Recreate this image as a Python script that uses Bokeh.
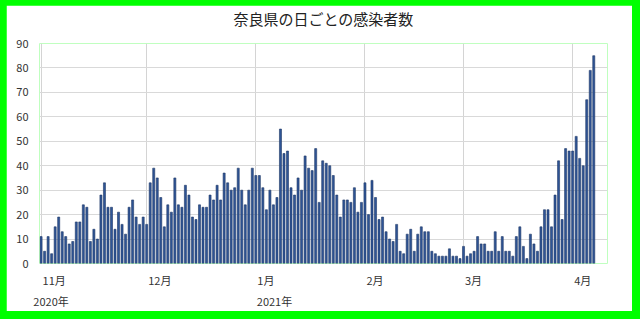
import numpy as np
from bokeh.plotting import figure
from bokeh.models import FixedTicker, LinearAxis, Range1d, ColumnDataSource
from bokeh.layouts import column
from bokeh.embed import file_html
from bokeh.resources import INLINE

title_text = "奈良県の日ごとの感染者数"
start_date = "2020-11-01"

nov_cases = [11, 5, 11, 4, 15, 19, 13, 11, 8, 9, 17, 17, 24, 23, 9, 14, 10, 28, 33, 23,
             23, 14, 21, 16, 12, 23, 26, 19, 16, 19]
dec_cases = [16, 33, 39, 35, 27, 15, 24, 21, 35, 24, 23, 32, 28, 19, 18, 24, 23, 23, 28, 26,
             32, 26, 37, 33, 30, 31, 39, 30, 24, 30, 39]
jan_cases = [36, 36, 31, 22, 30, 24, 27, 55, 45, 46, 31, 28, 35, 30, 44, 39, 38, 47, 25, 42,
             41, 40, 36, 28, 19, 26, 26, 25, 31, 21, 25]
feb_cases = [33, 20, 34, 27, 18, 19, 13, 10, 9, 16, 5, 4, 12, 14, 5, 12, 15, 13, 13, 5,
             4, 3, 3, 3, 6, 3, 3, 2]
mar_cases = [7, 3, 4, 5, 11, 8, 8, 5, 5, 13, 5, 11, 5, 5, 3, 11, 15, 7, 2, 12,
             8, 5, 15, 22, 22, 15, 28, 42, 18, 47, 46]
apr_cases = [46, 52, 43, 40, 67, 79, 85]

month_starts = ["2020-11-01", "2020-12-01", "2021-01-01", "2021-02-01", "2021-03-01", "2021-04-01"]
month_labels = ["11月", "12月", "1月", "2月", "3月", "4月"]
year_starts = ["2020-11-01", "2021-01-01"]
year_labels = ["2020年", "2021年"]
y_ticks = [0, 10, 20, 30, 40, 50, 60, 70, 80, 90]


def day_index(d):
    return int((np.datetime64(d) - np.datetime64(start_date)).astype(int))


cases = nov_cases + dec_cases + jan_cases + feb_cases + mar_cases + apr_cases
days = list(range(len(cases)))
month_ticks = [day_index(d) for d in month_starts]
year_ticks = [day_index(d) for d in year_starts]

# ---- layout / style constants ----
FONT = "Noto Sans CJK JP"
FIG_W, FIG_H = 626, 306
BORDER_L, BORDER_R, BORDER_T, BORDER_B = 33, 25, 38, 46
X_START, X_END = -0.45, 160.9
FRAME_W = FIG_W - BORDER_L - BORDER_R
PX_PER_DAY = FRAME_W / (X_END - X_START)


def text_w(s):
    # approximate rendered width (px) of an 11px label
    return sum(6.1 if ch.isdigit() else 11.0 for ch in s)


# labels sit just to the right of their month line (left-aligned look)
month_label_pos = [t + (1.5 + text_w(l) / 2) / PX_PER_DAY for t, l in zip(month_ticks, month_labels)]
year_shift_px = [10.0, 1.0 + text_w(year_labels[1]) / 2]
year_label_pos = [t + s / PX_PER_DAY for t, s in zip(year_ticks, year_shift_px)]

src = ColumnDataSource(data=dict(day=days, cases=cases))

p = figure(width=FIG_W, height=FIG_H,
           x_range=Range1d(X_START, X_END), y_range=Range1d(0, 90),
           output_backend="svg", toolbar_location=None,
           min_border_left=BORDER_L, min_border_right=BORDER_R,
           min_border_top=BORDER_T, min_border_bottom=BORDER_B,
           title=title_text)
p.title.align = "center"
p.title.vertical_align = "bottom"
p.title.standoff = 0
p.title.padding = dict(left=0, right=0, top=0, bottom=15)
p.title.text_font = FONT
p.title.text_font_size = "15px"
p.title.text_font_style = "normal"
p.title.text_color = "#222222"

p.vbar(x="day", top="cases", width=0.58, source=src,
       fill_color="#2f5597", line_color="#1f3864", line_width=0.6)

p.outline_line_color = None
p.background_fill_color = "white"
p.border_fill_color = "white"

p.xgrid.ticker = FixedTicker(ticks=month_ticks)
p.xgrid.grid_line_color = "#d4d4d4"
p.ygrid.ticker = FixedTicker(ticks=y_ticks)
p.ygrid.grid_line_color = "#d9d9d9"

xa = p.xaxis[0]
xa.ticker = FixedTicker(ticks=month_label_pos)
xa.major_label_overrides = {t: l for t, l in zip(month_label_pos, month_labels)}
xa.axis_line_color = None
xa.major_tick_line_color = None
xa.major_tick_out = 0
xa.major_tick_in = 0
xa.minor_tick_line_color = None
xa.minor_tick_out = 0
xa.major_label_standoff = 8
xa.major_label_text_font = FONT
xa.major_label_text_font_size = "11px"
xa.major_label_text_color = "#333333"

ya = p.yaxis[0]
ya.ticker = FixedTicker(ticks=y_ticks)
ya.axis_line_color = None
ya.major_tick_line_color = None
ya.major_tick_out = 0
ya.major_tick_in = 0
ya.minor_tick_line_color = None
ya.minor_tick_out = 0
ya.major_label_standoff = 11
ya.major_label_text_font = FONT
ya.major_label_text_font_size = "11px"
ya.major_label_text_color = "#333333"

year_axis = LinearAxis(ticker=FixedTicker(ticks=year_label_pos),
                       major_label_overrides={t: l for t, l in zip(year_label_pos, year_labels)},
                       axis_line_color=None, major_tick_line_color=None,
                       major_tick_out=0, major_tick_in=0,
                       minor_tick_line_color=None, minor_tick_out=0,
                       major_label_standoff=2,
                       major_label_text_font=FONT, major_label_text_font_size="11px",
                       major_label_text_color="#333333")
p.add_layout(year_axis, "below")

layout = column(p, styles={"background-color": "#00ff00",
                           "padding": "5px 8px 8px 6px"})

open("out.html", "w").write(file_html(layout, INLINE))
